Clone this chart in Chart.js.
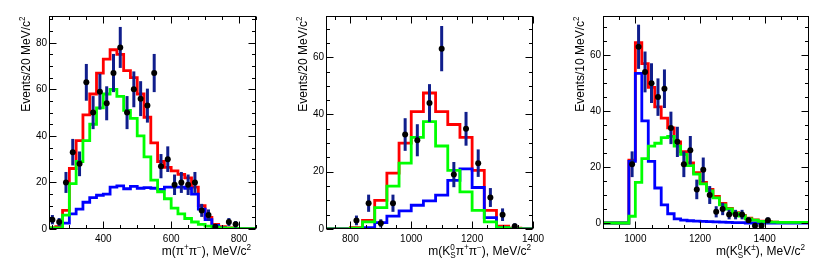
<!DOCTYPE html>
<html>
<head>
<meta charset="utf-8">
<script src="https://cdn.jsdelivr.net/npm/chart.js@4.4.0/dist/chart.umd.min.js"></script>
<style>
  html, body { margin: 0; padding: 0; background: #fff; }
  #wrap { display: flex; width: 830px; height: 274px; }
  canvas { display: block; }
</style>
</head>
<body>
<div id="wrap">
  <canvas id="c1" width="277" height="274"></canvas>
  <canvas id="c2" width="277" height="274"></canvas>
  <canvas id="c3" width="276" height="274"></canvas>
</div>
<script>
// ---- m(pi+ pi-) ----
const pipiBinLo = 240, pipiBinW = 20;
const pipiRed = [0.5, 1, 8, 26, 38, 49, 58, 67, 73, 77, 75, 68, 65, 58, 48, 37, 29, 26.5, 25, 23.5, 22, 18, 10, 5, 2, 1, 0.5, 0.3, 0.2, 0.2, 0.2];
const pipiGreen = [0.5, 0.5, 6, 19.5, 29, 38, 45, 52, 58, 60, 57, 51, 47.5, 40, 31, 21, 16, 13, 9, 6.5, 4.5, 3, 2, 1.2, 0.8, 0.5, 0.4, 0.3, 0.2, 0.2, 0.2];
const pipiBlue = [0, 0, 2.5, 6.5, 8.5, 11.5, 13.5, 14.5, 15, 18, 18.5, 17.3, 18.3, 17.5, 17.8, 17.5, 17, 18, 18, 18, 17.5, 15, 8.5, 4, 1.5, 0.5, 0.2, 0, 0, 0, 0];
const pipiX = [250, 270, 290, 310, 330, 350, 370, 390, 410, 430, 450, 470, 490, 510, 530, 550, 570, 590, 610, 630, 650, 670, 690, 710, 730, 770, 790];
const pipiN = [4, 3, 20, 33, 28, 63, 50, 59, 54, 67, 78, 50, 60, 56, 53, 67, 27, 30, 19, 20, 19, 20, 8, 6, 1, 3, 2];
const pipiErr = [2, 1.7, 4.5, 5.7, 5.3, 7.9, 7.1, 7.7, 7.3, 8.2, 8.8, 7.1, 7.7, 7.5, 7.3, 8.2, 5.2, 5.5, 4.4, 4.5, 4.4, 4.5, 2.8, 2.4, 1, 1.7, 1.4];
const pipiXTicks = [400, 600, 800];
const pipiYTicks = [0, 20, 40, 60, 80];

// ---- m(KS pi+ pi-) ----
const kpipiBinLo = 720, kpipiBinW = 40;
const kpipiRed = [0, 0, 0.5, 3, 10, 19.5, 30, 41, 47.5, 41, 36.5, 32, 20.5, 6.5, 1, 0.3, 0];
const kpipiGreen = [0, 0, 0.3, 2.5, 7.5, 15, 23, 32, 37.5, 29, 20.5, 13, 6.5, 2.5, 0.5, 0.1, 0];
const kpipiBlue = [0, 0, 0, 0.5, 2.2, 4.5, 6.3, 8.3, 9.8, 11.8, 17, 21, 14.5, 4, 0.5, 0, 0];
const kpipiX = [820, 860, 900, 940, 980, 1020, 1060, 1100, 1140, 1180, 1220, 1260, 1300, 1340];
const kpipiN = [3, 9, 2, 9, 33, 31, 44, 63, 19, 35, 23, 11, 5, 1];
const kpipiErr = [1.7, 3, 1.4, 3, 5.7, 5.6, 6.6, 7.9, 4.4, 5.9, 4.8, 3.3, 2.2, 1];
const kpipiXTicks = [800, 1000, 1200, 1400];
const kpipiYTicks = [0, 20, 40, 60];

// ---- m(KS K+-) ----
const kkBinLo = 900, kkBinW = 20;
const kkRed = [0, 0, 0, 0, 22.5, 64.5, 57, 48.5, 41.5, 37.5, 34, 29, 25.5, 21.5, 18, 14.5, 12, 9.5, 7, 5.2, 3.7, 2.7, 1.7, 1.1, 0.7, 0.5, 0.3, 0.2, 0.2, 0.2, 0.2, 0.2];
const kkGreen = [0, 0, 0, 0, 2.4, 14.5, 23, 27.5, 28.5, 30.5, 31, 27.5, 24.5, 20.5, 17.5, 14, 11.5, 9, 6.5, 5, 3.5, 2.5, 1.5, 1, 0.6, 0.4, 0.3, 0.2, 0.2, 0.2, 0.2, 0.2];
const kkBlue = [0, 0, 0, 0, 22, 53.5, 36.5, 22, 12.5, 6.5, 3.3, 1.5, 1, 0.8, 0.7, 0.6, 0.5, 0.4, 0.3, 0.2, 0.1, 0.1, 0, 0, 0, 0, 0, 0, 0, 0, 0, 0];
const kkX = [990, 1010, 1030, 1050, 1070, 1090, 1110, 1130, 1150, 1170, 1190, 1210, 1230, 1250, 1270, 1290, 1310, 1330, 1350, 1370, 1390, 1410];
const kkN = [21, 63, 54, 50, 45, 48, 34, 29, 21, 26, 12, 19, 10, 4, 5, 3, 3, 3, 1, -1, -1, 1];
const kkErr = [4.6, 7.9, 7.3, 7.1, 6.7, 6.9, 5.8, 5.4, 4.6, 5.1, 3.5, 4.4, 3.2, 2, 2.2, 1.7, 1.7, 1.7, 1, 0.6, 0.6, 1];
const kkXTicks = [1000, 1200, 1400];
const kkYTicks = [0, 20, 40, 60];

const FONT = "'Liberation Sans', Arial, Helvetica, sans-serif";

function histPoints(lo, w, vals) {
  const pts = vals.map((v, i) => ({ x: lo + i * w, y: v }));
  pts.push({ x: lo + vals.length * w, y: vals[vals.length - 1] });
  return pts;
}

function histo(lo, w, vals, color, order) {
  return {
    data: histPoints(lo, w, vals),
    showLine: true,
    stepped: true,
    borderColor: color,
    borderWidth: 2.8,
    pointRadius: 0,
    fill: false,
    order: order,
    borderCapStyle: 'butt',
    borderJoinStyle: 'miter'
  };
}

// draws a title made of normal / sup / sub pieces, right aligned at x=0, baseline y=0
function richText(ctx, segs, size) {
  const small = size * 0.68;
  const fNorm = size + "px " + FONT, fSmall = small + "px " + FONT;
  const widthOf = s => {
    if (s.t !== undefined) { ctx.font = fNorm; return ctx.measureText(s.t).width; }
    ctx.font = fSmall;
    return Math.max(s.sup ? ctx.measureText(s.sup).width : 0, s.sub ? ctx.measureText(s.sub).width : 0);
  };
  const total = segs.reduce((a, s) => a + widthOf(s), 0);
  let x = -total;
  ctx.textAlign = 'left';
  ctx.textBaseline = 'alphabetic';
  segs.forEach(s => {
    const w = widthOf(s);
    if (s.t !== undefined) {
      ctx.font = fNorm; ctx.fillText(s.t, x, 0);
    } else {
      ctx.font = fSmall;
      if (s.sup) ctx.fillText(s.sup, x, -size * 0.4);
      if (s.sub) ctx.fillText(s.sub, x, size * 0.3);
    }
    x += w;
  });
}

const rootFrame = {
  id: 'rootFrame',
  beforeDatasetDraw(chart, args) {
    const ds = chart.data.datasets[args.index];
    if (!ds.err) return;
    const ctx = chart.ctx, xs = chart.scales.x, ys = chart.scales.y, a = chart.chartArea;
    ctx.save();
    ctx.beginPath();
    ctx.rect(a.left, a.top, a.right - a.left, a.bottom - a.top);
    ctx.clip();
    ctx.strokeStyle = '#101e8c';
    ctx.lineWidth = 3;
    ds.data.forEach((p, i) => {
      const e = ds.err[i];
      const px = xs.getPixelForValue(p.x);
      ctx.beginPath();
      ctx.moveTo(px, ys.getPixelForValue(p.y - e));
      ctx.lineTo(px, ys.getPixelForValue(p.y + e));
      ctx.stroke();
    });
    ctx.restore();
  },
  afterDraw(chart, args, o) {
    const ctx = chart.ctx, xs = chart.scales.x, ys = chart.scales.y, a = chart.chartArea;
    ctx.save();
    ctx.strokeStyle = '#000';
    ctx.lineWidth = 1;
    ctx.strokeRect(Math.round(a.left) + 0.5, Math.round(a.top) + 0.5,
      Math.round(a.right - a.left) - 1, Math.round(a.bottom - a.top) - 1);
    const L = Math.round(a.left) + 0.5, R = Math.round(a.right) - 0.5;
    const T = Math.round(a.top) + 0.5, B = Math.round(a.bottom) - 0.5;
    ctx.beginPath();
    for (let v = Math.ceil(xs.min / o.xMinor) * o.xMinor; v <= xs.max; v += o.xMinor) {
      const len = (v % o.xMajor === 0) ? 7 : 3.5;
      const px = Math.round(xs.getPixelForValue(v)) + 0.5;
      ctx.moveTo(px, B); ctx.lineTo(px, B - len);
      ctx.moveTo(px, T); ctx.lineTo(px, T + len);
    }
    for (let v = Math.ceil(ys.min / o.yMinor) * o.yMinor; v <= ys.max; v += o.yMinor) {
      const len = (v % o.yMajor === 0) ? 7 : 3.5;
      const py = Math.round(ys.getPixelForValue(v)) + 0.5;
      ctx.moveTo(L, py); ctx.lineTo(L + len, py);
      ctx.moveTo(R, py); ctx.lineTo(R - len, py);
    }
    ctx.stroke();

    ctx.fillStyle = '#000';
    // x title
    ctx.save();
    ctx.translate(a.right - o.xTitleOff, 254.5);
    richText(ctx, o.xTitle, 12);
    ctx.restore();
    // y title
    ctx.save();
    ctx.translate(30, a.top + 0.5);
    ctx.rotate(-Math.PI / 2);
    richText(ctx, o.yTitle, 12);
    ctx.restore();
    ctx.restore();
  }
};

function makeChart(id, c) {
  const tickFont = { family: FONT, size: 10 };
  return new Chart(document.getElementById(id), {
    type: 'scatter',
    data: {
      datasets: [
        {
          data: c.x.map((v, i) => ({ x: v, y: c.n[i] })),
          err: c.err,
          order: 0,
          pointRadius: 3,
          pointBackgroundColor: '#000',
          pointBorderWidth: 0,
          showLine: false
        },
        histo(c.lo, c.w, c.green, '#00ff00', 1),
        histo(c.lo, c.w, c.blue, '#0000ff', 2),
        histo(c.lo, c.w, c.red, '#ff0000', 3)
      ]
    },
    options: {
      responsive: false,
      animation: false,
      devicePixelRatio: 1,
      events: [],
      layout: { padding: { top: 16, right: 21, left: 0, bottom: 0 } },
      plugins: {
        legend: { display: false },
        tooltip: { enabled: false },
        rootFrame: {
          xMinor: 50, xMajor: 200, yMinor: 5, yMajor: 20,
          xTitle: c.xTitle, yTitle: c.yTitle, xTitleOff: c.xTitleOff
        }
      },
      scales: {
        x: {
          type: 'linear', min: c.xMin, max: c.xMax,
          grid: { display: false, drawTicks: false },
          border: { display: false },
          ticks: { font: tickFont, color: '#000', padding: 4, maxRotation: 0, callback: v => String(v) },
          afterBuildTicks: s => { s.ticks = c.xTicks.map(v => ({ value: v })); },
          afterFit: s => { s.height = 45; }
        },
        y: {
          min: c.yMin, max: c.yMax,
          grid: { display: false, drawTicks: false },
          border: { display: false },
          ticks: { font: tickFont, color: '#000', padding: 2, callback: v => String(v) },
          afterBuildTicks: s => { s.ticks = c.yTicks.map(v => ({ value: v })); },
          afterFit: s => { s.width = 49; }
        }
      }
    },
    plugins: [rootFrame]
  });
}

const evTitle = bw => [{ t: 'Events/' + bw + ' MeV/c' }, { sup: '2' }];

makeChart('c1', {
  lo: pipiBinLo, w: pipiBinW, red: pipiRed, green: pipiGreen, blue: pipiBlue,
  x: pipiX, n: pipiN, err: pipiErr, xTicks: pipiXTicks, yTicks: pipiYTicks,
  xMin: 240, xMax: 850, yMin: 0, yMax: 91.5, xTitleOff: 5,
  xTitle: [{ t: 'm(\u03c0' }, { sup: '+' }, { t: '\u03c0' }, { sup: '\u2212' }, { t: '), MeV/c' }, { sup: '2' }],
  yTitle: evTitle(20)
});

makeChart('c2', {
  lo: kpipiBinLo, w: kpipiBinW, red: kpipiRed, green: kpipiGreen, blue: kpipiBlue,
  x: kpipiX, n: kpipiN, err: kpipiErr, xTicks: kpipiXTicks, yTicks: kpipiYTicks,
  xMin: 720, xMax: 1400, yMin: 0, yMax: 74.4, xTitleOff: 2,
  xTitle: [{ t: 'm(K' }, { sup: '0', sub: 'S' }, { t: '\u03c0' }, { sup: '+' }, { t: '\u03c0' }, { sup: '\u2212' }, { t: '), MeV/c' }, { sup: '2' }],
  yTitle: evTitle(20)
});

makeChart('c3', {
  lo: kkBinLo, w: kkBinW, red: kkRed, green: kkGreen, blue: kkBlue,
  x: kkX, n: kkN, err: kkErr, xTicks: kkXTicks, yTicks: kkYTicks,
  xMin: 900, xMax: 1537, yMin: -2.15, yMax: 74, xTitleOff: 4,
  xTitle: [{ t: 'm(K' }, { sup: '0', sub: 'S' }, { t: 'K' }, { sup: '\u00b1' }, { t: '), MeV/c' }, { sup: '2' }],
  yTitle: evTitle(10)
});
</script>
</body>
</html>
